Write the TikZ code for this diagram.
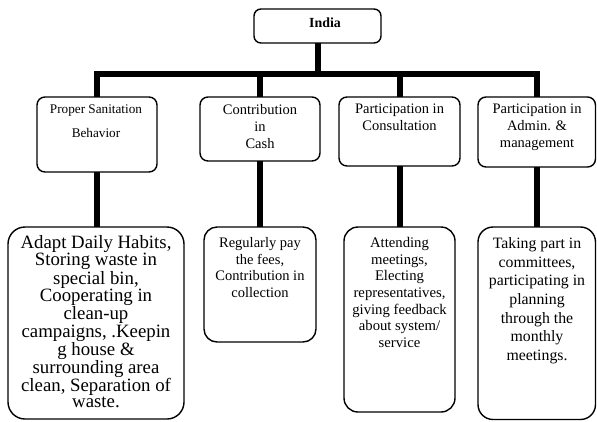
\documentclass[tikz,border=0pt]{standalone}
\usepackage{fontspec}
\setmainfont{Liberation Serif}
\begin{document}
\begin{tikzpicture}[x=1bp,y=-1bp,
  box/.style={draw, line width=1.4bp, rounded corners=#1, inner sep=0pt, outer sep=0pt},
  conn/.style={line width=6bp, line join=miter, line cap=butt},
  txt/.style={anchor=north, inner sep=0pt, align=center},
  fs/.style 2 args={font=\fontsize{#1bp}{#2bp}\selectfont}]
\useasboundingbox (0,0) rectangle (597,421);

% root
\node[box=7bp, minimum width=127bp, minimum height=34bp] (india) at (317.5,26) {};
\node[anchor=base, inner sep=0pt, font=\bfseries\fontsize{13.9bp}{16bp}\selectfont] (tindia) at (325,27) {India};

% second level
\node[box=8bp, minimum width=120bp, minimum height=75bp] (b1) at (97,134.5) {};
\node[box=8bp, minimum width=120bp, minimum height=64bp] (b2) at (260,129) {};
\node[box=8bp, minimum width=121bp, minimum height=69bp] (b3) at (399.5,131.5) {};
\node[box=8bp, minimum width=117.5bp, minimum height=70bp] (b4) at (536.75,132) {};

\node[txt, fs={13.2}{24}] (tb1) at (96,104.3) {Proper Sanitation\\Behavior};
\node[txt, fs={14.5}{17}] (tb2) at (260,104.1) {Contribution\\in\\Cash};
\node[txt, fs={14.5}{17}] (tb3) at (399.5,104.1) {Participation in\\Consultation};
\node[txt, fs={14.5}{17}] (tb4) at (537,104.1) {Participation in\\Admin. \&\\management};

% third level
\node[box=17bp, minimum width=176bp, minimum height=192bp] (l1) at (96,323) {};
\node[box=13bp, minimum width=112bp, minimum height=115bp] (l2) at (260,284.5) {};
\node[box=14bp, minimum width=111bp, minimum height=185bp] (l3) at (399.5,319.5) {};
\node[box=15bp, minimum width=117.5bp, minimum height=192.5bp] (l4) at (536.75,323.25) {};

\node[txt, fs={18.8}{16}] (tl1) at (96,235.2) {Adapt Daily Habits,\\Storing waste in\\special bin,\\Cooperating in\\clean-up\\campaigns, .Keepin\\g house \&\\surrounding area\\clean, Separation of\\waste.};
\node[txt, fs={14.5}{16.7}] (tl2) at (260,237.1) {Regularly pay\\the fees,\\Contribution in\\collection};
\node[txt, fs={14.7}{16.7}] (tl3) at (399.5,237) {Attending\\meetings,\\Electing\\representatives,\\giving feedback\\about system/\\service};
\node[txt, fs={15.8}{18.7}] (tl4) at (537,237.2) {Taking part in\\committees,\\participating in\\planning\\through the\\monthly\\meetings.};

% connectors
\draw[conn] (india.south) -- ++(0,31) coordinate (hub);
\draw[conn] (b1.north) |- (hub) -| (b4.north);
\draw[conn] (hub -| b2.north) -- (b2.north);
\draw[conn] (hub -| b3.north) -- (b3.north);

\draw[conn] (b1.south) -- (b1.south |- l1.north);
\draw[conn] (b2.south) -- (b2.south |- l2.north);
\draw[conn] (b3.south) -- (b3.south |- l3.north);
\draw[conn] (b4.south) -- (b4.south |- l4.north);
\end{tikzpicture}
\end{document}
